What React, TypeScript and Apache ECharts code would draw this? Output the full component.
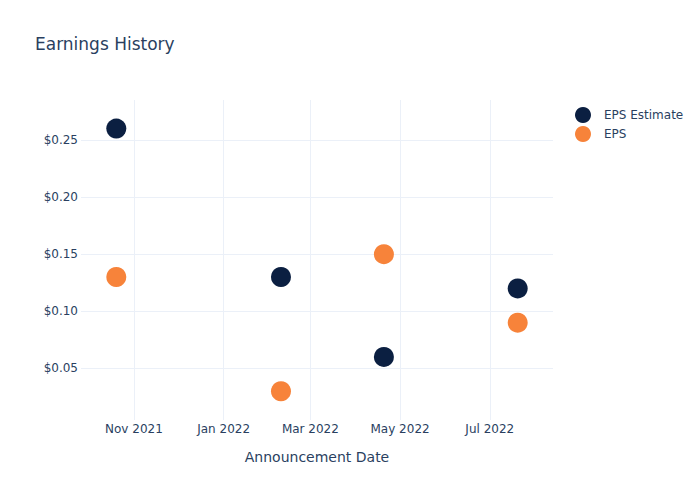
import React, { useEffect, useRef } from "react";
import * as echarts from "echarts";

const dates = ["2021-10-20", "2022-02-09", "2022-04-20", "2022-07-20"];
const epsEstimate = [0.26, 0.13, 0.06, 0.12];
const eps = [0.13, 0.03, 0.15, 0.09];
const xTicks = ["2021-11-01", "2022-01-01", "2022-03-01", "2022-05-01", "2022-07-01"];
const yTicks = [0.05, 0.1, 0.15, 0.2, 0.25];
const monthNames = ["Jan", "Feb", "Mar", "Apr", "May", "Jun", "Jul", "Aug", "Sep", "Oct", "Nov", "Dec"];

const ts = (s: string) => {
  const [y, m, d] = s.split("-").map(Number);
  return new Date(y, m - 1, d).getTime();
};

const FONT = "DejaVu Sans, Verdana, sans-serif";
const TEXT = "#2a3f5f";
const GRID = "#ebf0f8";

export default function App() {
  const ref = useRef<HTMLDivElement>(null);
  useEffect(() => {
    if (!ref.current) return;
    document.body.style.margin = "0";
    const chart = echarts.init(ref.current, null, { renderer: "svg" });
    chart.setOption({
      animation: false,
      backgroundColor: "#ffffff",
      textStyle: { fontFamily: FONT, color: TEXT },
      title: {
        text: "Earnings History",
        left: 35,
        top: 35,
        padding: 0,
        textStyle: { fontFamily: FONT, fontSize: 17, fontWeight: "normal", color: TEXT },
      },
      legend: {
        orient: "vertical",
        left: 575,
        top: 107,
        padding: 0,
        itemWidth: 16,
        itemHeight: 16,
        itemGap: 3,
        icon: "circle",
        textStyle: { fontFamily: FONT, fontSize: 12, color: TEXT, padding: [0, 0, 0, 8] },
        data: ["EPS Estimate", "EPS"],
      },
      grid: { left: 81, right: 147, top: 100, bottom: 80, containLabel: false },
      xAxis: {
        type: "value",
        min: ts("2021-09-26"),
        max: ts("2022-08-13"),
        name: "Announcement Date",
        nameLocation: "middle",
        nameGap: 30,
        nameTextStyle: { fontFamily: FONT, fontSize: 14, color: TEXT },
        axisLine: { show: false },
        axisTick: { show: false, customValues: xTicks.map(ts) },
        axisLabel: {
          customValues: xTicks.map(ts),
          fontFamily: FONT,
          fontSize: 12,
          color: TEXT,
          margin: 3,
          hideOverlap: false,
          formatter: (v: number) => {
            const d = new Date(v);
            return monthNames[d.getMonth()] + " " + d.getFullYear();
          },
        },
        splitLine: { show: true, lineStyle: { color: GRID, width: 1 } },
      },
      yAxis: {
        type: "value",
        min: 0.0048,
        max: 0.285,
        axisLine: { show: false },
        axisTick: { show: false, customValues: yTicks },
        axisLabel: {
          customValues: yTicks,
          fontFamily: FONT,
          fontSize: 12,
          color: TEXT,
          margin: 3,
          formatter: (v: number) => "$" + v.toFixed(2),
        },
        splitLine: { show: true, lineStyle: { color: GRID, width: 1 } },
      },
      series: [
        {
          name: "EPS Estimate",
          type: "scatter",
          symbol: "circle",
          symbolSize: 20,
          itemStyle: { color: "#0b1f41", opacity: 1 },
          data: dates.map((d, i) => [ts(d), epsEstimate[i]]),
        },
        {
          name: "EPS",
          type: "scatter",
          symbol: "circle",
          symbolSize: 20,
          itemStyle: { color: "#f7833a", opacity: 1 },
          data: dates.map((d, i) => [ts(d), eps[i]]),
        },
      ],
    });
    return () => chart.dispose();
  }, []);
  return <div ref={ref} style={{ width: 700, height: 500 }} />;
}
